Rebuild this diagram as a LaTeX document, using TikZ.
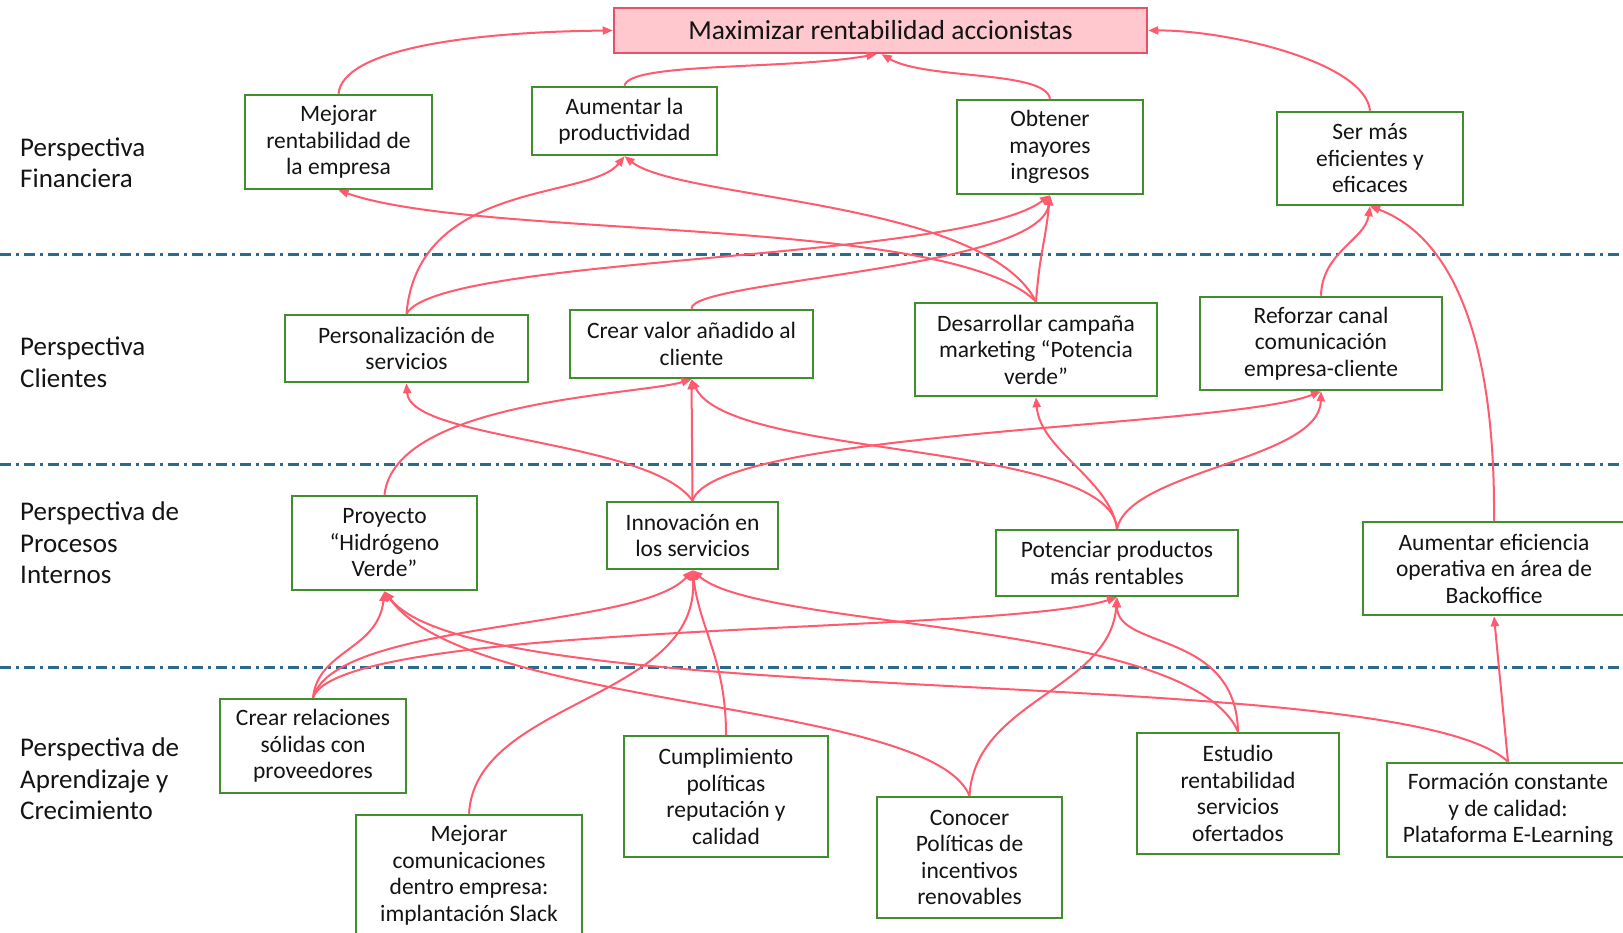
\documentclass[tikz,border=0pt]{standalone}
\usepackage{fontspec}
\setmainfont{Carlito}
\usetikzlibrary{arrows.meta}
\definecolor{boxgreen}{HTML}{3F8F2F}
\definecolor{arrowred}{HTML}{FF5A6E}
\definecolor{topfill}{HTML}{FFC7CE}
\definecolor{topborder}{HTML}{E8506A}
\definecolor{sepblue}{HTML}{2A6A8A}
\definecolor{txt}{HTML}{141414}
\begin{document}
\begin{tikzpicture}[x=1pt,y=-1pt,
 obj/.style={draw=boxgreen, line width=2.5pt, fill=white, align=center, inner sep=0pt, text=txt, font=\fontsize{23.5}{26.5}\selectfont},
 goal/.style={draw=topborder, line width=2.5pt, fill=topfill, inner sep=0pt, text=txt, font=\fontsize{27.5}{30}\selectfont},
 persp/.style={anchor=west, align=left, inner sep=0pt, text=txt, font=\fontsize{27}{31.5}\selectfont},
 sepline/.style={sepblue, line width=3pt, dash pattern=on 11pt off 5pt on 3pt off 5pt},
 link/.style={arrowred, line width=2pt, -{Triangle[length=10pt,width=8pt]}}]
\useasboundingbox (0,0) rectangle (1623,933);
\fill[white] (0,0) rectangle (1623,933);
% separators
\coordinate (s1a) at (0,255); \coordinate (s1b) at (1623,255);
\coordinate (s2a) at (0,464); \coordinate (s2b) at (1623,464);
\coordinate (s3a) at (0,667); \coordinate (s3b) at (1623,667);
\draw[sepline] (s1a) -- (s1b);
\draw[sepline] (s2a) -- (s2b);
\draw[sepline] (s3a) -- (s3b);
% perspective labels
\node[persp] (lf) at (20,163) {Perspectiva\\Financiera};
\node[persp] (lc) at (20,362.5) {Perspectiva\\Clientes};
\node[persp] (lp) at (20,543) {Perspectiva de\\Procesos\\Internos};
\node[persp] (la) at (20,779) {Perspectiva de\\Aprendizaje y\\Crecimiento};
% nodes
\node[goal, minimum width=533pt, minimum height=45pt] (top) at (880.5,30.5) {Maximizar rentabilidad accionistas};
\node[obj, minimum width=187pt, minimum height=94pt] (f1) at (338.5,142) {Mejorar\\rentabilidad de\\la empresa};
\node[obj, minimum width=185pt, minimum height=68pt] (f2) at (624.5,121) {Aumentar la\\productividad};
\node[obj, minimum width=186pt, minimum height=94pt] (f3) at (1050,147) {Obtener\\mayores\\ingresos};
\node[obj, minimum width=186pt, minimum height=93pt] (f4) at (1370,158.5) {Ser más\\eficientes y\\eficaces};
\node[obj, minimum width=243pt, minimum height=67pt] (c1) at (406.5,348.5) {Personalización de\\servicios};
\node[obj, minimum width=243pt, minimum height=68pt] (c2) at (691.5,344) {Crear valor añadido al\\cliente};
\node[obj, minimum width=242pt, minimum height=93pt] (c3) at (1036,349.5) {Desarrollar campaña\\marketing “Potencia\\verde”};
\node[obj, minimum width=242pt, minimum height=93pt] (c4) at (1321,343.5) {Reforzar canal\\comunicación\\empresa-cliente};
\node[obj, minimum width=185pt, minimum height=94pt] (p1) at (384.5,543) {Proyecto\\“Hidrógeno\\Verde”};
\node[obj, minimum width=171pt, minimum height=67pt] (p2) at (692.5,535.5) {Innovación en\\los servicios};
\node[obj, minimum width=242pt, minimum height=66pt] (p3) at (1117,563) {Potenciar productos\\más rentables};
\node[obj, minimum width=262pt, minimum height=93pt] (p4) at (1494,568.5) {Aumentar eficiencia\\operativa en área de\\Backoffice};
\node[obj, minimum width=186pt, minimum height=94pt] (a1) at (313,746) {Crear relaciones\\sólidas con\\proveedores};
\node[obj, minimum width=226pt, minimum height=121pt] (a2) at (469,875.5) {Mejorar\\comunicaciones\\dentro empresa:\\implantación Slack};
\node[obj, minimum width=204pt, minimum height=121pt] (a3) at (726,796.5) {Cumplimiento\\políticas\\reputación y\\calidad};
\node[obj, minimum width=185pt, minimum height=121pt] (a4) at (969.5,857.5) {Conocer\\Políticas de\\incentivos\\renovables};
\node[obj, minimum width=202pt, minimum height=121pt] (a5) at (1238,793.5) {Estudio\\rentabilidad\\servicios\\ofertados};
\node[obj, minimum width=242pt, minimum height=94pt] (a6) at (1508,810) {Formación constante\\y de calidad:\\Plataforma E-Learning};
% financial -> goal
\draw[link] (f1.north) .. controls (343,50) and (464,32) .. (top.west);
\draw[link] (f2.north) .. controls (629,62) and (786,70) .. ([xshift=-4pt]top.south);
\draw[link] (f3.north) .. controls (1045,70) and (926,80) .. ([xshift=1pt]top.south);
\draw[link] (f4.north) .. controls (1365,62) and (1227,30) .. (top.east);
% clients -> financial
\draw[link] (c1.north) .. controls (418,180) and (590,200) .. (f2.south);
\draw[link] (c1.north) .. controls (440,255) and (960,262) .. (f3.south);
\draw[link] (c2.north) .. controls (690,280) and (1040,270) .. (f3.south);
\draw[link] (c3.north) .. controls (950,215) and (480,240) .. (f1.south);
\draw[link] (c3.north) .. controls (985,200) and (680,200) .. (f2.south);
\draw[link] (c3.north) .. controls (1040,250) and (1045,245) .. (f3.south);
\draw[link] (c4.north) .. controls (1322,252) and (1365,240) .. (f4.south);
\draw[link] (p4.north) .. controls (1496,280) and (1420,225) .. (f4.south);
% processes -> clients
\draw[link] (p1.north) .. controls (395,400) and (640,395) .. (c2.south);
\draw[link] (p2.north) .. controls (650,440) and (410,440) .. (c1.south);
\draw[link] (p2.north) -- (c2.south);
\draw[link] (p2.north) .. controls (715,430) and (1230,428) .. (c4.south);
\draw[link] (p3.north) .. controls (1110,440) and (730,460) .. (c2.south);
\draw[link] (p3.north) .. controls (1110,480) and (1040,450) .. (c3.south);
\draw[link] (p3.north) .. controls (1130,470) and (1320,460) .. (c4.south);
% learning -> processes
\draw[link] (a1.north) .. controls (318,650) and (378,650) .. (p1.south);
\draw[link] (a1.north) .. controls (335,620) and (640,630) .. (p2.south);
\draw[link] (a1.north) .. controls (340,620) and (1000,635) .. (p3.south);
\draw[link] (a2.north) .. controls (475,700) and (700,700) .. (p2.south);
\draw[link] (a3.north) .. controls (726,660) and (700,630) .. (p2.south);
\draw[link] (a4.north) .. controls (930,700) and (470,710) .. (p1.south);
\draw[link] (a4.north) .. controls (975,700) and (1110,690) .. (p3.south);
\draw[link] (a5.north) .. controls (1190,620) and (760,630) .. (p2.south);
\draw[link] (a5.north) .. controls (1236,630) and (1117,650) .. (p3.south);
\draw[link] (a6.north) .. controls (1400,660) and (480,715) .. (p1.south);
\draw[link] (a6.north) -- (p4.south);
\end{tikzpicture}
\end{document}
